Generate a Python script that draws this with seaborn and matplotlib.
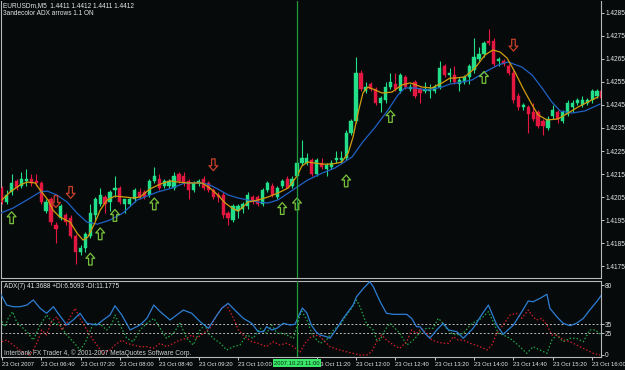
import numpy as np
import matplotlib
matplotlib.use("Agg")
import matplotlib.pyplot as plt
import seaborn as sns
from matplotlib.path import Path
from matplotlib.transforms import blended_transform_factory

# ---------------- data (EURUSDm, M5, 23 Oct 2007 06:00 .. 16:10) ----------------
opens = [1.4209,1.4203,1.4207,1.4212,1.4210,1.4212,1.4213,1.4212,1.4211,1.4199,
         1.4204,1.4193,1.4196,1.4197,1.4196,1.4188,1.4181,1.4183,1.4188,1.4197,
         1.4202,1.4205,1.4203,1.4208,1.4209,1.4202,1.4202,1.4204,1.4207,1.4207,
         1.4206,1.4212,1.4213,1.4210,1.4210,1.4209,1.4215,1.4214,1.4212,1.4208,
         1.4211,1.4213,1.4211,1.4208,1.4206,1.4206,1.4198,1.4195,1.4199,1.4200,
         1.4201,1.4205,1.4205,1.4202,1.4208,1.4210,1.4205,1.4210,1.4213,1.4210,
         1.4214,1.4220,1.4220,1.4221,1.4215,1.4220,1.4217,1.4218,1.4221,1.4221,
         1.4222,1.4233,1.4238,1.4259,1.4251,1.4254,1.4252,1.4246,1.4247,1.4253,
         1.4254,1.4251,1.4257,1.4252,1.4255,1.4252,1.4251,1.4251,1.4251,1.4253,
         1.4262,1.4258,1.4258,1.4254,1.4255,1.4257,1.4260,1.4265,1.4267,1.4273,
         1.4273,1.4264,1.4264,1.4262,1.4259,1.4249,1.4244,1.4244,1.4242,1.4242,
         1.4238,1.4235,1.4240,1.4242,1.4238,1.4241,1.4244,1.4246,1.4245,1.4246,
         1.4247,1.4249,1.4251]
highs = [1.4210,1.4208,1.4215,1.4213,1.4216,1.4217,1.4215,1.4215,1.4212,1.4204,
         1.4205,1.4194,1.4202,1.4198,1.4197,1.4189,1.4184,1.4190,1.4202,1.4205,
         1.4209,1.4206,1.4208,1.4214,1.4210,1.4204,1.4205,1.4209,1.4209,1.4208,
         1.4213,1.4218,1.4215,1.4213,1.4213,1.4216,1.4216,1.4216,1.4213,1.4212,
         1.4213,1.4214,1.4212,1.4209,1.4207,1.4207,1.4199,1.4202,1.4202,1.4203,
         1.4207,1.4206,1.4206,1.4209,1.4212,1.4211,1.4210,1.4213,1.4214,1.4214,
         1.4221,1.4230,1.4224,1.4222,1.4222,1.4222,1.4220,1.4221,1.4225,1.4225,
         1.4234,1.4239,1.4266,1.4260,1.4255,1.4255,1.4253,1.4249,1.4255,1.4259,
         1.4259,1.4259,1.4258,1.4254,1.4256,1.4253,1.4255,1.4254,1.4254,1.4264,
         1.4263,1.4261,1.4262,1.4257,1.4258,1.4263,1.4274,1.4270,1.4273,1.4278,
         1.4274,1.4266,1.4265,1.4263,1.4260,1.4250,1.4246,1.4245,1.4246,1.4243,
         1.4239,1.4240,1.4245,1.4243,1.4243,1.4247,1.4247,1.4248,1.4249,1.4248,
         1.4252,1.4252,1.4252]
lows = [1.4202,1.4202,1.4206,1.4208,1.4209,1.4210,1.4210,1.4210,1.4202,1.4198,
        1.4193,1.4185,1.4195,1.4193,1.4187,1.4176,1.4180,1.4181,1.4187,1.4195,
        1.4201,1.4198,1.4199,1.4205,1.4202,1.4198,1.4201,1.4203,1.4204,1.4204,
        1.4205,1.4211,1.4208,1.4209,1.4209,1.4208,1.4211,1.4210,1.4204,1.4207,
        1.4210,1.4208,1.4207,1.4204,1.4203,1.4196,1.4193,1.4194,1.4196,1.4198,
        1.4200,1.4202,1.4201,1.4201,1.4207,1.4205,1.4204,1.4209,1.4209,1.4209,
        1.4213,1.4219,1.4219,1.4214,1.4214,1.4217,1.4214,1.4217,1.4220,1.4220,
        1.4221,1.4232,1.4237,1.4251,1.4250,1.4251,1.4245,1.4242,1.4246,1.4252,
        1.4251,1.4250,1.4252,1.4251,1.4248,1.4246,1.4250,1.4248,1.4250,1.4252,
        1.4257,1.4255,1.4254,1.4251,1.4254,1.4254,1.4259,1.4264,1.4266,1.4271,
        1.4262,1.4262,1.4262,1.4258,1.4246,1.4243,1.4243,1.4233,1.4238,1.4235,
        1.4232,1.4234,1.4239,1.4237,1.4237,1.4240,1.4242,1.4245,1.4244,1.4245,
        1.4246,1.4248,1.4247]
closes = [1.4203,1.4206,1.4211,1.4209,1.4213,1.4213,1.4211,1.4211,1.4203,1.4203,
          1.4194,1.4191,1.4201,1.4194,1.4188,1.4181,1.4183,1.4189,1.4198,1.4204,
          1.4206,1.4202,1.4207,1.4209,1.4203,1.4204,1.4204,1.4208,1.4205,1.4205,
          1.4212,1.4214,1.4209,1.4212,1.4212,1.4214,1.4212,1.4211,1.4208,1.4211,
          1.4212,1.4209,1.4208,1.4205,1.4205,1.4197,1.4196,1.4201,1.4201,1.4202,
          1.4206,1.4203,1.4202,1.4208,1.4211,1.4206,1.4209,1.4212,1.4209,1.4213,
          1.4220,1.4222,1.4222,1.4215,1.4221,1.4218,1.4219,1.4220,1.4222,1.4222,
          1.4233,1.4238,1.4259,1.4252,1.4253,1.4252,1.4246,1.4248,1.4253,1.4255,
          1.4252,1.4258,1.4253,1.4253,1.4249,1.4250,1.4252,1.4252,1.4253,1.4261,
          1.4258,1.4259,1.4255,1.4256,1.4257,1.4262,1.4266,1.4267,1.4272,1.4272,
          1.4263,1.4265,1.4263,1.4259,1.4247,1.4244,1.4245,1.4241,1.4239,1.4236,
          1.4236,1.4239,1.4243,1.4239,1.4242,1.4246,1.4246,1.4247,1.4247,1.4247,
          1.4251,1.4251,1.4248]

# fast MA (orange) read at bar positions
ma_fast_x = [0.0,1.7,3.7,5.1,6.8,7.8,9.4,10.4,11.8,13.9,15.3,16.5,17.5,18.9,20.0,21.4,23.0,25.0,26.7,28.1,
             30.1,32.2,34.2,35.8,37.9,40.7,42.3,43.9,45.4,46.8,48.0,49.0,50.0,52.1,54.1,56.1,58.2,60.0,61.0,62.2,
             65.1,67.1,69.1,70.4,71.4,72.4,73.4,74.4,75.9,77.3,79.3,81.3,83.0,85.4,87.4,89.5,91.1,92.1,94.1,96.2,
             98.2,99.8,101.3,102.7,104.3,105.9,107.8,109.0,110.8,113.0,115.1,117.1,119.1,121.2]
ma_fast_y = [1.42037,1.42072,1.42102,1.42115,1.42111,1.42080,1.42037,1.41993,1.41963,1.41941,1.41893,1.41863,1.41876,1.41937,1.41993,1.42037,1.42054,1.42050,1.42046,1.42050,
             1.42085,1.42106,1.42120,1.42115,1.42111,1.42111,1.42089,1.42059,1.42024,1.42002,1.41989,1.42006,1.42028,1.42037,1.42050,1.42067,1.42089,1.42141,1.42185,1.42202,
             1.42193,1.42193,1.42202,1.42241,1.42311,1.42415,1.42502,1.42528,1.42515,1.42502,1.42506,1.42537,1.42546,1.42528,1.42524,1.42546,1.42567,1.42567,1.42572,1.42611,
             1.42667,1.42689,1.42680,1.42654,1.42593,1.42524,1.42450,1.42407,1.42385,1.42389,1.42415,1.42441,1.42463,1.42485]

# slow MA (blue)
ma_slow_x = [-0.3,2.3,5.1,7.8,9.2,11.2,13.3,15.3,17.3,19.4,22.0,24.6,27.5,29.5,31.7,34.6,37.2,39.9,41.9,43.9,
             46.0,48.0,50.0,52.1,54.1,56.1,58.2,60.0,62.2,65.1,67.7,71.2,73.2,75.9,78.5,80.5,81.9,84.0,86.6,89.5,
             91.1,92.7,95.6,98.2,100.9,102.9,105.7,107.8,109.8,111.8,113.5,115.9,118.5,121.6]
ma_slow_y = [1.41980,1.42002,1.42037,1.42072,1.42076,1.42059,1.42028,1.41980,1.41941,1.41932,1.41950,1.41980,1.42037,1.42054,1.42072,1.42089,1.42111,1.42111,1.42106,1.42085,
             1.42059,1.42046,1.42037,1.42028,1.42024,1.42037,1.42067,1.42093,1.42124,1.42154,1.42176,1.42224,1.42285,1.42354,1.42428,1.42493,1.42524,1.42524,1.42515,1.42528,
             1.42541,1.42546,1.42559,1.42593,1.42624,1.42637,1.42615,1.42580,1.42524,1.42463,1.42424,1.42415,1.42424,1.42454]

# signal arrows
buy_x = [2, 18, 20, 23, 31, 57, 60, 70, 79, 98]
buy_y = [1.4196, 1.4178, 1.4189, 1.4197, 1.4202, 1.4200, 1.4202, 1.4212, 1.4240, 1.4257]
sell_x = [11, 14, 43, 104]
sell_y = [1.4203, 1.4207, 1.4219, 1.4271]

# ADX(7) sub-window
adx_x = [-0.1,1.0,2.3,3.7,5.1,6.4,7.8,9.1,10.5,11.2,13.2,14.5,15.9,17.3,19.3,20.6,22.0,23.0,24.4,26.1,
         28.1,29.5,30.9,32.2,34.2,36.9,38.6,40.3,42.0,43.3,44.7,46.0,47.7,49.1,50.8,52.1,53.2,53.8,54.9,55.9,
         57.2,58.6,59.6,60.6,61.1,62.0,62.9,63.9,64.7,66.0,66.7,68.1,69.4,71.4,72.1,73.5,74.8,75.5,76.9,78.2,
         79.6,82.3,83.3,84.3,85.0,86.0,87.0,88.4,89.7,90.8,92.5,93.8,95.8,97.5,98.9,100.6,101.9,104.0,105.7,107.0,
         108.0,109.4,110.8,111.4,112.8,114.1,115.5,116.8,118.2,119.5,120.9,121.9]
adx_v = [68.6,57.1,55.2,55.2,57.1,62.9,53.4,47.7,55.2,49.5,34.3,40.0,47.7,36.2,34.3,40.0,45.7,56.3,45.7,28.6,
         34.3,41.9,57.1,49.5,40.0,51.4,47.7,38.1,30.5,41.9,53.4,59.1,49.5,41.9,36.2,26.6,26.6,32.3,28.6,30.5,
         36.2,34.3,35.1,48.0,53.7,48.0,34.3,26.3,22.9,20.9,19.1,30.5,41.9,57.1,66.6,76.2,83.8,78.1,60.9,47.7,
         46.5,46.5,41.9,32.3,32.3,24.8,19.1,28.6,36.2,28.6,26.6,19.1,30.5,45.7,57.1,34.3,23.7,34.3,49.5,61.7,
         60.9,64.8,69.4,53.4,43.8,36.2,33.5,36.2,41.9,51.4,60.9,68.6]
pdi_x = [-0.3,0.65,1.3,2.2,3.0,4.0,5.1,6.4,7.8,9.1,10.5,11.8,13.2,14.5,15.9,16.9,17.9,18.6,20.0,21.3,
         22.3,23.0,24.0,25.4,26.7,28.1,29.5,30.9,32.2,33.5,34.9,36.2,37.6,38.9,40.3,41.3,42.0,43.0,44.4,45.7,
         47.1,48.4,49.8,51.1,52.5,53.8,54.9,55.9,57.2,58.6,59.3,60.6,61.0,62.0,63.2,64.7,66.0,67.4,68.7,70.1,
         71.1,72.1,72.8,74.2,75.5,76.2,76.9,77.9,78.9,79.9,80.9,82.3,83.3,84.3,85.3,86.4,87.7,88.7,89.4,90.4,
         91.4,92.5,93.8,95.2,96.2,97.5,98.9,99.9,100.9,101.9,103.3,105.3,106.7,108.0,109.4,110.8,111.8,112.8,114.1,115.5,
         116.8,118.2,119.5,120.6,121.9]
pdi_v = [41.9,32.3,41.9,49.5,38.1,32.3,26.6,17.1,34.3,45.7,36.2,34.3,22.9,15.2,5.7,13.4,26.6,36.2,35.1,28.6,
         34.3,45.7,34.3,19.1,15.2,28.6,36.2,41.9,30.5,19.1,24.8,36.2,19.1,11.4,28.6,34.3,24.8,19.1,13.4,5.7,
         9.5,11.4,22.9,19.1,30.5,24.8,34.3,24.8,24.8,20.9,19.1,45.0,50.0,40.0,22.0,13.4,17.1,28.6,34.3,45.7,
         53.4,62.9,55.2,34.3,28.6,17.1,17.1,28.6,36.2,30.5,24.8,11.4,15.2,20.9,28.6,30.5,30.5,41.9,38.1,30.5,
         24.8,22.9,24.8,34.3,38.1,41.9,49.5,38.1,24.8,22.9,19.1,9.5,1.9,9.5,5.7,1.9,17.1,22.9,15.2,19.1,
         19.1,15.2,28.6,28.6,22.9]
mdi_x = [0.0,1.0,2.3,3.7,4.7,5.7,6.4,7.4,8.1,9.1,10.1,11.2,12.2,13.2,14.9,15.9,16.9,17.9,19.3,20.6,
         22.0,23.0,24.4,25.4,26.7,28.1,29.5,30.8,32.2,33.5,34.9,36.2,37.6,38.6,39.6,41.0,42.3,43.7,44.7,45.7,
         47.1,48.1,49.4,50.8,52.1,53.8,55.2,56.5,57.9,59.3,60.6,61.6,62.7,63.7,64.7,65.7,66.7,68.7,71.4,72.8,
         74.2,75.2,76.2,77.2,78.2,79.6,80.9,82.3,83.3,84.3,85.3,86.4,87.4,88.4,89.7,90.8,91.8,92.8,93.8,95.2,
         97.2,98.6,99.6,100.6,101.9,103.3,104.6,105.7,107.0,108.0,108.7,109.7,110.8,111.8,112.8,114.1,115.5,117.5,118.9,120.2,
         121.6]
mdi_v = [15.2,17.1,11.4,5.7,1.9,0.0,5.7,17.1,28.6,22.9,38.1,43.8,28.6,36.2,53.4,41.9,32.3,22.9,11.4,1.9,
         5.7,11.4,17.1,13.4,11.4,9.5,9.5,7.6,13.4,9.5,13.4,17.1,19.1,22.9,19.1,24.8,30.5,45.7,53.4,57.1,
         41.9,28.6,20.9,15.2,13.4,9.5,15.2,11.4,13.4,9.5,3.0,13.0,20.0,23.0,21.0,15.2,9.5,5.7,1.9,0.0,
         0.0,3.8,15.2,22.9,17.1,11.4,7.6,15.2,28.6,24.8,30.5,24.8,17.1,15.2,13.4,13.4,20.9,17.1,17.1,13.4,
         9.5,5.7,11.4,24.8,34.3,45.7,47.6,41.9,51.4,43.8,40.0,41.9,34.3,22.9,22.9,17.1,15.2,9.5,5.7,1.9,
         0.0]
adx_levels = [35, 25]

price_ticks = [1.4175, 1.4185, 1.4195, 1.4205, 1.4215, 1.4225, 1.4235, 1.4245, 1.4255, 1.4265, 1.4275, 1.4285]
adx_ticks = [0, 25, 35, 80]
time_tick_bars = [0, 8, 16, 24, 32, 40, 48, 64, 72, 80, 88, 96, 104, 112, 120]
time_tick_labels = ["23 Oct 2007", "23 Oct 06:40", "23 Oct 07:20", "23 Oct 08:00", "23 Oct 08:40",
                    "23 Oct 09:20", "23 Oct 10:00", "23 Oct 11:20", "23 Oct 12:00",
                    "23 Oct 12:40", "23 Oct 13:20", "23 Oct 14:00", "23 Oct 14:40", "23 Oct 15:20",
                    "23 Oct 16:00"]
cursor_bar = 60
cursor_label = "2007.10.23 11:00"
header1 = "EURUSDm,M5  1.4411 1.4412 1.4411 1.4412"
header2 = "3andecolor ADX arrows 1.1 ON"
adx_header = "ADX(7) 41.3688 +DI:6.5093 -DI:11.1775"
watermark = "Interbank FX Trader 4, \u00a9 2001-2007 MetaQuotes Software Corp."

# ---------------- style ----------------
BG = "#060a0b"
FG = "#e8e8e8"
SPINE = "#b8b8b8"
UP = "#22e08a"
DOWN = "#e3173f"
sns.set_theme(style="dark", rc={"axes.facecolor": BG, "figure.facecolor": BG,
                                 "axes.edgecolor": SPINE, "text.color": FG,
                                 "xtick.color": FG, "ytick.color": FG})
plt.rcParams["font.family"] = ["Liberation Sans", "DejaVu Sans"]
FS = 4.7
FSX = 4.2

W, H = 625, 370
fig = plt.figure(figsize=(W / 100, H / 100), dpi=100)
fig.patch.set_facecolor(BG)
ax = fig.add_axes([1 / W, (H - 278) / H, 600 / W, 277 / H])
ax2 = fig.add_axes([1 / W, 13 / H, 600 / W, 76 / H])

bars = np.arange(len(opens))
o = np.array(opens); h = np.array(highs); l = np.array(lows); c = np.array(closes)
up = c >= o
cols = np.where(up, UP, DOWN)

# candles
ax.vlines(bars, l, h, colors=cols, linewidth=0.8, zorder=2)
body_lo = np.minimum(o, c)
body_h = np.maximum(np.abs(c - o), 0.00005)
ax.bar(bars, body_h, bottom=body_lo, width=0.66, color=cols, edgecolor=cols, linewidth=0.3, zorder=3)

# moving averages
sns.lineplot(x=ma_slow_x, y=ma_slow_y, ax=ax, color="#1f62c6", linewidth=0.9, errorbar=None, zorder=4)
sns.lineplot(x=ma_fast_x, y=ma_fast_y, ax=ax, color="#d29d0c", linewidth=0.9, errorbar=None, zorder=5)

# arrows
up_path = Path([(0, 1), (0.75, 0.15), (0.3, 0.15), (0.3, -1), (-0.3, -1), (-0.3, 0.15), (-0.75, 0.15), (0, 1)],
               [Path.MOVETO] + [Path.LINETO] * 6 + [Path.CLOSEPOLY])
dn_path = Path([(x, -y) for x, y in up_path.vertices], up_path.codes)
ax.scatter(buy_x, buy_y, marker=up_path, s=72, facecolors="none", edgecolors="#78c23c", linewidths=0.9, zorder=6)
ax.scatter(sell_x, sell_y, marker=dn_path, s=72, facecolors="none", edgecolors="#c8402a", linewidths=0.9, zorder=6)

ax.set_xlim(-0.16, 121.79)
ax.set_ylim(1.41698, 1.42902)
ax.yaxis.tick_right()
ax.set_yticks(price_ticks)
ax.set_yticklabels([f"{p:.4f}" for p in price_ticks])
ax.tick_params(axis="y", colors=FG, labelsize=FS, length=2, width=0.6, pad=1.0, right=True, left=False)
ax.tick_params(axis="x", bottom=False, labelbottom=False)
ax.set_xlabel(""); ax.set_ylabel("")
ax.spines["top"].set_visible(False)
for s in ["left", "right", "bottom"]:
    ax.spines[s].set_color(SPINE); ax.spines[s].set_linewidth(0.8)

# ADX panel
for lv in adx_levels:
    ax2.axhline(lv, color="#bdbdbd", linewidth=0.7, linestyle=(0, (2, 2)), zorder=1)
sns.lineplot(x=adx_x, y=adx_v, ax=ax2, color="#2c7fd4", linewidth=0.9, errorbar=None, zorder=4)
sns.lineplot(x=pdi_x, y=pdi_v, ax=ax2, color="#22a84a", linewidth=0.9, errorbar=None, zorder=3)
sns.lineplot(x=mdi_x, y=mdi_v, ax=ax2, color="#d0202c", linewidth=0.9, errorbar=None, zorder=3)
ax2.lines[-1].set_linestyle((0, (1.2, 1.6)))
ax2.lines[-2].set_linestyle((0, (1.2, 1.6)))
ax2.set_xlim(-0.16, 121.79)
ax2.set_ylim(-2.3, 84.6)
ax2.yaxis.tick_right()
ax2.set_yticks(adx_ticks)
ax2.set_yticklabels([str(t) for t in adx_ticks])
ax2.tick_params(axis="y", colors=FG, labelsize=FS, length=2, width=0.6, pad=1.0, right=True, left=False)
ax2.set_xticks(time_tick_bars)
ax2.set_xticklabels(time_tick_labels)
ax2.tick_params(axis="x", colors=FG, labelsize=FSX, length=2.5, width=0.6, pad=1.0, bottom=True)
for t in ax2.get_xticklabels():
    t.set_ha("left")
ax2.set_xlabel(""); ax2.set_ylabel("")
for s in ["left", "right", "bottom", "top"]:
    ax2.spines[s].set_color(SPINE); ax2.spines[s].set_linewidth(0.8)

# cursor
for a in (ax, ax2):
    a.axvline(cursor_bar, color="#1f9a3c", linewidth=0.9, zorder=7)
ax2.text(cursor_bar, -0.08, cursor_label, transform=blended_transform_factory(ax2.transData, ax2.transAxes),
         ha="center", va="center", fontsize=FSX, color="#0a2a10", zorder=10, clip_on=False,
         bbox=dict(boxstyle="square,pad=0.2", fc="#3ae86a", ec="none"))

# texts
fig.text(3 / W, 1 - 6 / H, header1, color=FG, fontsize=FS, va="center", ha="left")
fig.text(3 / W, 1 - 13.5 / H, header2, color=FG, fontsize=FS, va="center", ha="left")
fig.text(4 / W, 1 - 286 / H, adx_header, color=FG, fontsize=FS, va="center", ha="left")
fig.text(4 / W, 1 - 353 / H, watermark, color="#d0d0d0", fontsize=FS, va="center", ha="left")

fig.savefig("out.png", dpi=100, facecolor=BG)
